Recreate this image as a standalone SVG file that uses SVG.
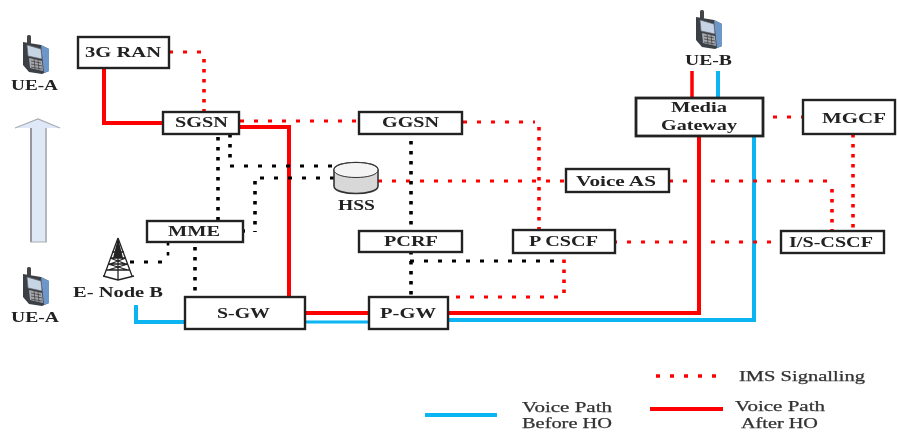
<svg xmlns="http://www.w3.org/2000/svg" width="897" height="432" viewBox="0 0 897 432">
<style>
text{font-family:"Liberation Serif","Times New Roman",serif;font-weight:bold;font-size:14px;fill:#222;text-anchor:start}
.lg{font-weight:normal;fill:#333;stroke:#333;stroke-width:.25}
.box{fill:#fff;stroke:#222;stroke-width:2.4}
.r,.b,.rd,.rh,.kd,.kh{fill:none}
.r{stroke:#f00;stroke-width:4}
.b{stroke:#0cb4f2;stroke-width:4}
.rd{stroke:#f00;stroke-width:3.6;stroke-dasharray:3.4 6.6}
.rh{stroke:#f00;stroke-width:3.2;stroke-dasharray:4 10}
.kd{stroke:#000;stroke-width:3.6;stroke-dasharray:3.4 6.6}
.kh{stroke:#000;stroke-width:3.2;stroke-dasharray:4 10}
</style>
<defs>
<filter id="soft" x="-2%" y="-2%" width="104%" height="104%"><feGaussianBlur stdDeviation="0.55"/></filter>
<symbol id="phone" width="28" height="39" viewBox="0 0 28 39">
<rect x="5" y="0" width="4" height="9" rx="1.5" fill="#444"/>
<path d="M1 7 L19 10 L27 14 L27 36 L20 39 L7 37 L1 30 Z" fill="#3a3f46"/>
<path d="M19 10 L27 14 L27 36 L22 38 Z" fill="#6d97c8"/>
<path d="M5 10 L19 14 L20 24 L6 21 Z" fill="#c6d4e6" stroke="#666" stroke-width=".7"/>
<path d="M7 23 L20 26 L21 36 L8 33 Z" fill="#a6a9ae"/>
<path d="M9 26 L19 28 M9 29 L20 31 M9 32 L20 34 M12 24 L13 34 M16 25 L17 35" stroke="#444" stroke-width=".8" fill="none"/>
</symbol>
</defs>
<rect width="897" height="432" fill="#fff"/>
<g filter="url(#soft)">
<g id="connectors">
<path class="r" d="M104 68V123H163"/>
<path class="r" d="M239 127H289V297"/>
<path class="r" d="M305 313H369"/>
<path class="r" d="M448 313H699V136"/>
<path class="r" style="stroke-width:3.5" d="M692 71V97"/>
<path class="b" d="M718 71V97"/>
<path class="b" d="M754 136V320H448"/>
<path class="b" style="stroke-width:3" d="M305 322H369"/>
<path class="b" d="M136 305V322H185"/>
<path class="rh" d="M169 52H204"/>
<path class="rd" d="M204 59V112"/>
<path class="rh" d="M240 121H359"/>
<path class="rh" d="M463 122H535"/>
<path class="rd" d="M539 127V230"/>
<path class="rh" d="M378 181H566"/>
<path class="rh" d="M669 181H832"/>
<path class="rd" d="M832 189V231"/>
<path class="rd" d="M853 134V231"/>
<path class="rh" d="M773 117H803"/>
<path class="rh" d="M613 242H781"/>
<path class="rh" d="M456 297H560"/>
<path class="rd" d="M564 293V253"/>
<path class="kd" d="M218 137V221"/>
<path class="kd" d="M230 134V164"/>
<path class="kh" d="M230 166H334"/>
<path class="kh" d="M334 178H258"/>
<path class="kd" d="M255 181V232"/>
<path class="kh" d="M241 231H255"/>
<path class="kd" d="M411 141V297"/>
<path class="kh" d="M410 261H564"/>
<path class="kh" d="M130 262H170"/>
<path class="kd" style="stroke-width:2.6" d="M168 242V262"/>
<path class="kd" d="M195 247V297"/>
</g>
<g id="legend">
<path class="rh" style="stroke-width:3.6" d="M656 376H718"/>
<path class="r" d="M650 409H723"/>
<path class="b" d="M425 415H497"/>
<text class="lg" x="739" y="381" textLength="126" lengthAdjust="spacingAndGlyphs">IMS Signalling</text>
<text class="lg" x="522" y="412" textLength="90" lengthAdjust="spacingAndGlyphs">Voice Path</text>
<text class="lg" x="522" y="428" textLength="90" lengthAdjust="spacingAndGlyphs">Before HO</text>
<text class="lg" x="735" y="411" textLength="90" lengthAdjust="spacingAndGlyphs">Voice Path</text>
<text class="lg" x="741" y="428" textLength="77" lengthAdjust="spacingAndGlyphs">After HO</text>
</g>
<g id="arrow"><path d="M30 242 V128 H15 L38 119 L60 128 H47 V242 Z" fill="#dfe8f7"/><path d="M31 242 V128" stroke="#94989e" stroke-width="2" fill="none"/><path d="M46 242 V128" stroke="#b4b8bd" stroke-width="2" fill="none"/><path d="M15 128 L38 119 L60 128 M30 242 H47" stroke="#a9adb3" stroke-width="1.2" fill="none"/></g>
<g id="ue-a-top"><use href="#phone" x="22" y="35"/><text x="11" y="90" textLength="47" lengthAdjust="spacingAndGlyphs">UE-A</text></g>
<g id="ue-a-bottom"><use href="#phone" x="22" y="267"/><text x="11" y="322" textLength="48" lengthAdjust="spacingAndGlyphs">UE-A</text></g>
<g id="ue-b"><use href="#phone" x="695" y="10"/><text x="685" y="65" textLength="47" lengthAdjust="spacingAndGlyphs">UE-B</text></g>
<g id="enodeb">
<path d="M118 238 L104 276 M118 238 L132 276 M118 238V280 M103 276 L118 280 L134 276 M112 252H124 M110 258H126 M108 264H128 M106 270H130 M110 258 L126 264 M126 258 L110 264 M108 264 L128 270 M128 264 L108 270" stroke="#222" stroke-width="1.3" fill="none"/>
<path d="M118 238 L113 258 H123 Z" fill="#222"/>
<text x="73" y="297" textLength="90" lengthAdjust="spacingAndGlyphs">E- Node B</text>
</g>
<g id="ran"><rect class="box" x="78" y="37" width="91" height="31"/><text x="85" y="57" textLength="76" lengthAdjust="spacingAndGlyphs">3G RAN</text></g>
<g id="sgsn"><rect class="box" x="163" y="112" width="76" height="22"/><text x="175" y="127" textLength="53" lengthAdjust="spacingAndGlyphs">SGSN</text></g>
<g id="ggsn"><rect class="box" x="359" y="112" width="103" height="22"/><text x="382" y="127" textLength="57" lengthAdjust="spacingAndGlyphs">GGSN</text></g>
<g id="hss">
<path d="M334 170 C334 160 378 160 378 170 V186 C378 196 334 196 334 186 Z" fill="#d8d8d8" stroke="#333" stroke-width="1.6"/>
<path d="M334 170 C334 180 378 180 378 170 C378 160 334 160 334 170 Z" fill="#f4f4f4" stroke="#333" stroke-width="1"/>
<text x="338" y="210" textLength="37" lengthAdjust="spacingAndGlyphs">HSS</text>
</g>
<g id="media-gateway"><rect class="box" style="stroke-width:2.8" x="636" y="98" width="127" height="38"/><text x="671" y="112" textLength="56" lengthAdjust="spacingAndGlyphs">Media</text><text x="661" y="130" textLength="76" lengthAdjust="spacingAndGlyphs">Gateway</text></g>
<g id="mgcf"><rect class="box" x="803" y="100" width="92" height="34"/><text x="822" y="123" textLength="64" lengthAdjust="spacingAndGlyphs">MGCF</text></g>
<g id="voice-as"><rect class="box" x="566" y="169" width="103" height="23"/><text x="576" y="186" textLength="80" lengthAdjust="spacingAndGlyphs">Voice AS</text></g>
<g id="p-cscf"><rect class="box" x="513" y="230" width="102" height="23"/><text x="529" y="246" textLength="69" lengthAdjust="spacingAndGlyphs">P CSCF</text></g>
<g id="is-cscf"><rect class="box" x="781" y="231" width="103" height="22"/><text x="789" y="247" textLength="84" lengthAdjust="spacingAndGlyphs">I/S-CSCF</text></g>
<g id="mme"><rect class="box" x="147" y="221" width="96" height="21"/><text x="168" y="236" textLength="52" lengthAdjust="spacingAndGlyphs">MME</text></g>
<g id="pcrf"><rect class="box" x="359" y="231" width="103" height="21"/><text x="384" y="246" textLength="54" lengthAdjust="spacingAndGlyphs">PCRF</text></g>
<g id="s-gw"><rect class="box" x="185" y="297" width="120" height="32"/><text x="217" y="318" textLength="53" lengthAdjust="spacingAndGlyphs">S-GW</text></g>
<g id="p-gw"><rect class="box" x="369" y="297" width="79" height="32"/><text x="380" y="318" textLength="56" lengthAdjust="spacingAndGlyphs">P-GW</text></g>
</g>
</svg>
